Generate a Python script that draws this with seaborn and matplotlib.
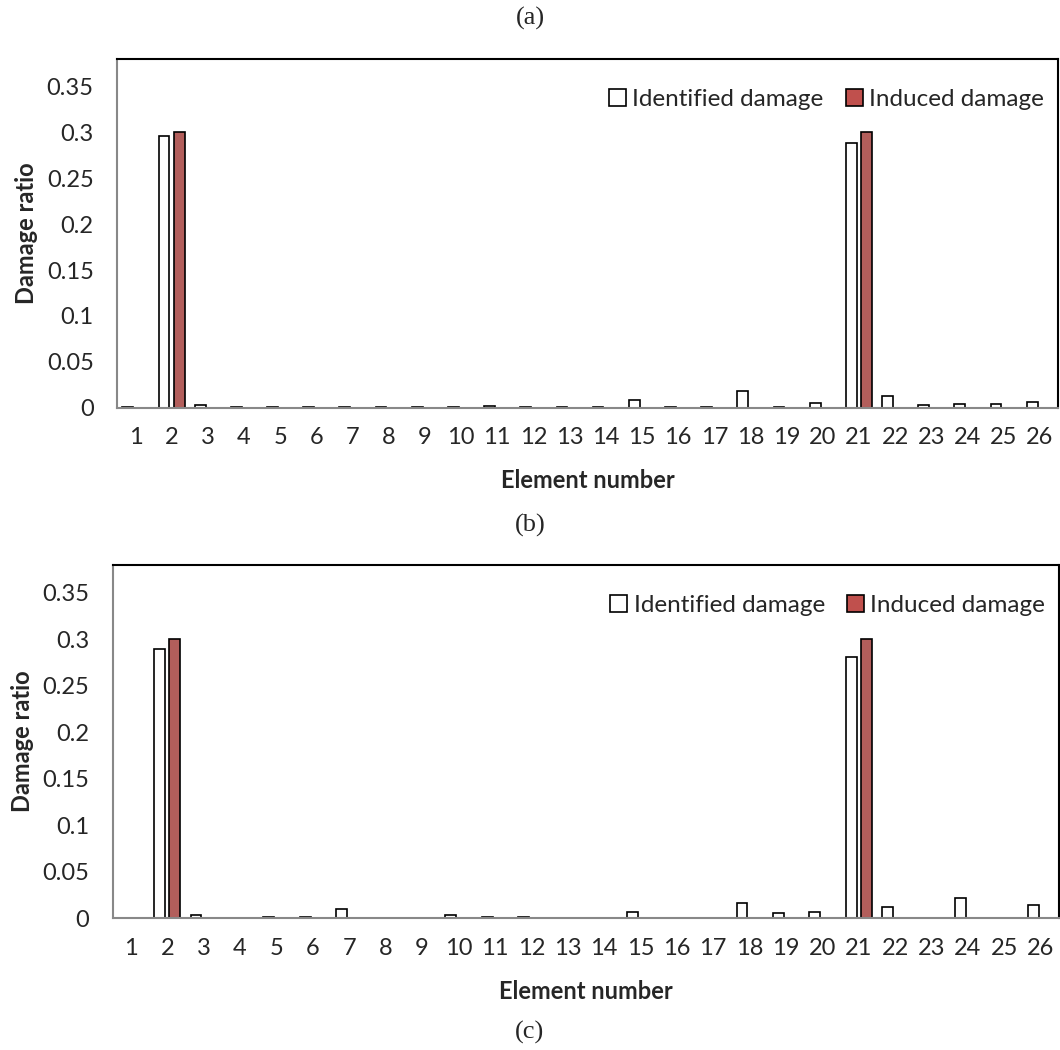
import seaborn as sns
import matplotlib.pyplot as plt
import matplotlib.patches as mpatches
import pandas as pd
import numpy as np

# Data
elements = [str(i) for i in range(1, 27)]

identified_b = [0.001, 0.296, 0.003, 0.0003, 0.0005, 0.001, 0.0003, 0.0003, 0.001, 0.001,
                0.0015, 0.0003, 0.0003, 0.0003, 0.0087, 0.0005, 0.0003, 0.0178, 0.0008, 0.0054,
                0.288, 0.0123, 0.0033, 0.004, 0.0044, 0.0058]
identified_c = [0.0, 0.290, 0.0032, 0.0005, 0.0015, 0.0015, 0.0097, 0.0, 0.0005, 0.0033,
                0.001, 0.001, 0.0, 0.0005, 0.0065, 0.0005, 0.0005, 0.0165, 0.0054, 0.0072,
                0.281, 0.0126, 0.0, 0.022, 0.0005, 0.014]
induced = [0, 0.3, 0, 0, 0, 0, 0, 0, 0, 0, 0, 0, 0, 0, 0, 0, 0, 0, 0, 0,
           0.3, 0, 0, 0, 0, 0]

series_names = ['Identified damage', 'Induced damage']
colors = ['white', '#C0504D']
panel_labels = ['(a)', '(b)', '(c)']

sns.set_style('white')
plt.rcParams['font.family'] = ['Lato', 'DejaVu Sans']

fig = plt.figure(figsize=(10.6, 10.5), dpi=100)
ax_b = fig.add_axes([0.1107, 0.6117, 0.8873, 0.3321])
ax_c = fig.add_axes([0.1063, 0.1254, 0.8927, 0.3365])

for ax, ident in [(ax_b, identified_b), (ax_c, identified_c)]:
    df = pd.DataFrame({
        'element': elements * 2,
        'value': ident + induced,
        'series': [series_names[0]] * 26 + [series_names[1]] * 26,
    })
    sns.barplot(data=df, x='element', y='value', hue='series', order=elements,
                hue_order=series_names, palette=colors, width=0.84, gap=0.29,
                edgecolor='black', linewidth=1.2, legend=False, ax=ax)
    # Excel does not draw zero-height bars
    for p in ax.patches:
        if p.get_height() == 0:
            p.set_visible(False)

    ax.set_ylim(0, 0.38)
    ax.set_xlim(-0.5, 25.5)
    ax.set_yticks([0, 0.05, 0.1, 0.15, 0.2, 0.25, 0.3, 0.35])
    ax.set_yticklabels(['0', '0.05', '0.1', '0.15', '0.2', '0.25', '0.3', '0.35'])
    ax.tick_params(axis='y', direction='in', length=7, color='#888888', labelsize=17, pad=17)
    ax.tick_params(axis='x', length=0, labelsize=17, pad=14)
    ax.set_xlabel('Element number', fontsize=17, fontweight='bold', labelpad=15)
    ax.set_ylabel('Damage ratio', fontsize=17, fontweight='bold', labelpad=6)
    for s in ['left', 'bottom']:
        ax.spines[s].set_color('#888888')
        ax.spines[s].set_linewidth(1.5)
    for s in ['top', 'right']:
        ax.spines[s].set_color('black')
        ax.spines[s].set_linewidth(1.5)

    handles = [mpatches.Patch(facecolor=c, edgecolor='black', linewidth=1.2) for c in colors]
    ax.legend(handles, series_names, loc='upper right', ncol=2, frameon=False,
              fontsize=17.5, handlelength=0.7, handleheight=0.7, handletextpad=0.25,
              columnspacing=0.9, bbox_to_anchor=(1.008, 0.977))

fig.text(0.5, 1 - 18 / 1050, panel_labels[0], ha='center', va='center',
         family='Liberation Serif', fontsize=19)
fig.text(0.5, 1 - 525 / 1050, panel_labels[1], ha='center', va='center',
         family='Liberation Serif', fontsize=19)
fig.text(0.5, 1 - 1032 / 1050, panel_labels[2], ha='center', va='center',
         family='Liberation Serif', fontsize=19)

plt.savefig('out.png', dpi=100)
